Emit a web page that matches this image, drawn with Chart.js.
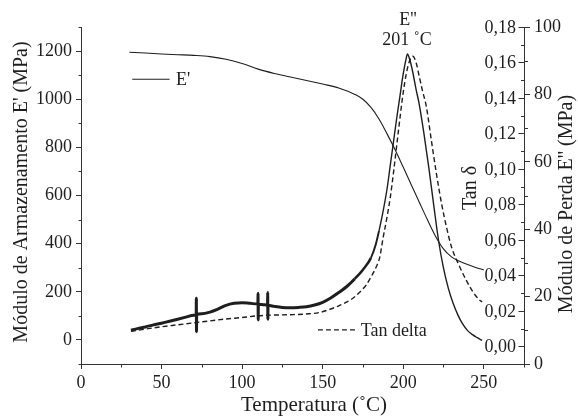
<!DOCTYPE html>
<html><head><meta charset="utf-8">
<script src="https://cdn.jsdelivr.net/npm/chart.js@4.4.0/dist/chart.umd.min.js"></script>
<style>html,body{margin:0;padding:0;background:#fff;}canvas{display:block;}</style>
</head><body>
<canvas id="c" width="578" height="418"></canvas>
<script>
const FONT = 'Liberation Serif';
const INK = '#1e1e1e';
const AXIS = '#333333';

// Storage modulus E' (left axis, MPa)
const ePrimeT = [30,40,50,60,70,80,90,100,110,120,130,140,150,160,170,175,180,185,190,195,200,205,210,215,220,225,230,235,240,245,250];
const ePrimeVal = [1195,1192,1188,1185,1182,1177,1166,1148,1125,1107,1092,1078,1063,1047,1020,1000,966,918,856,790,718,645,572,500,432,378,345,327,313,301,291];

// Loss modulus E'' (right axis, MPa)
const eLossT = [
  31,35,40,45,50,55,60,65,70,71.5,
  71.6,71.7,71.8,75,80,85,90,95,100,105,
  109.8,109.9,110,110.1,113,115.8,115.9,116,116.1,120,
  125,130,135,140,145,150,155,160,165,170,
  175,180,183,185,187,190,192,194,196,198,
  200,202,202.6,204,206,208,210,213,216,219,
  222,225,228,231,234,237,240,243,246,249];
const eLossVal = [
  10,10.5,11,11.6,12.1,12.7,13.3,13.9,14.5,14.6,
  19.5,9.6,14.6,14.9,15.4,16.3,17.4,18,18.2,18,
  17.8,21,13.1,17.7,17.6,17.5,21.2,13.3,17.4,17.1,
  16.8,16.7,16.8,17,17.5,18.3,19.6,21.2,23,25.3,
  28,31.5,35.5,39.5,44,52,59,66,73,79.5,
  86,91,92,90.5,86.5,81.5,77,68,58,47,
  36.5,28.5,22.5,18,14.5,11.8,9.9,8.7,7.8,7];

// Tan delta (inner right axis)
const tanT = [
  31,40,50,60,70,80,90,100,110,120,
  130,140,148,155,160,165,169,173,177,180,
  183.4,185.4,187.5,190,192,194,197,200,202,204,
  206,208,210,212,214.4,217.5,220.6,223.7,226.8,230,
  235,239,243.4,247.5,249];
const tanVal = [
  0.0084,0.0097,0.011,0.0121,0.0132,0.0143,0.0154,0.0162,0.0172,0.0176,
  0.0178,0.0182,0.019,0.021,0.0228,0.025,0.0272,0.0305,0.0345,0.039,
  0.045,0.05,0.061,0.073,0.084,0.098,0.121,0.143,0.154,0.161,
  0.1635,0.16,0.152,0.144,0.135,0.116,0.0975,0.081,0.0675,0.056,
  0.045,0.0375,0.0305,0.026,0.025];

// Ticks
const xTicks = [0,50,100,150,200,250];
const xMinorTicks = [25,75,125,175,225,275];
const leftTicks = [0,200,400,600,800,1000,1200];
const leftMinorTicks = [-100,100,300,500,700,900,1100,1300];
const lossTicks = [0,20,40,60,80,100];
const lossMinorTicks = [10,30,50,70,90];
const tanTicks = [0,0.02,0.04,0.06,0.08,0.10,0.12,0.14,0.16,0.18];
const tanMinorTicks = [0.01,0.03,0.05,0.07,0.09,0.11,0.13,0.15,0.17];

// Texts
const xTitle = 'Temperatura (˚C)';
const leftTitle = "Módulo de Armazenamento E' (MPa)";
const rightTitle = "Módulo de Perda E'' (MPa)";
const tanTitle = 'Tan δ';
const peakText = ["E''", '201 ˚C'];
const peakT = 202.3;
const legendEPrime = "E'";
const legendTan = 'Tan delta';

const pts = (xs, ys) => xs.map((x, i) => ({x, y: ys[i]}));
const setTicks = arr => scale => { scale.ticks = arr.map(v => ({value: v})); };

const decor = {
  id: 'decor',
  afterDraw(chart) {
    const {ctx, chartArea: ca, scales} = chart;
    const sx = scales.x, sy = scales.y, sl = scales.yLoss, st = scales.yTan;
    const line = (x1, y1, x2, y2) => { ctx.beginPath(); ctx.moveTo(x1, y1); ctx.lineTo(x2, y2); ctx.stroke(); };
    const al = v => Math.round(v) + 0.5;
    const vtext = (t, x, y, size) => {
      ctx.save(); ctx.translate(x, y); ctx.rotate(-Math.PI / 2);
      ctx.textAlign = 'center'; ctx.textBaseline = 'middle';
      ctx.font = `${size}px "${FONT}"`; ctx.fillText(t, 0, 0); ctx.restore();
    };
    ctx.save();
    ctx.strokeStyle = AXIS; ctx.lineWidth = 1; ctx.setLineDash([]);
    const L = al(ca.left), R = al(ca.right), B = al(ca.bottom);
    xMinorTicks.forEach(v => { const p = al(sx.getPixelForValue(v)); line(p, B, p, B + 3); });
    leftMinorTicks.forEach(v => { const p = al(sy.getPixelForValue(v)); line(L - 3, p, L, p); });
    lossMinorTicks.forEach(v => { const p = al(sl.getPixelForValue(v)); line(R, p, R + 3.5, p); });
    tanMinorTicks.forEach(v => { const p = al(st.getPixelForValue(v)); line(R - 3.5, p, R, p); });
    ctx.fillStyle = INK;
    ctx.font = `18px "${FONT}"`;
    ctx.textAlign = 'right'; ctx.textBaseline = 'middle';
    tanTicks.forEach(v => {
      const p = al(st.getPixelForValue(v));
      line(R - 6, p, R, p);
      ctx.fillText(v.toFixed(2).replace('.', ','), R - 8.5, p + 1);
    });
    // axis titles
    vtext(tanTitle, R - 54, 188, 20);
    vtext(leftTitle, 22, 192, 20);
    vtext(rightTitle, 567, 204, 20);
    ctx.textAlign = 'center'; ctx.textBaseline = 'middle';
    ctx.font = `21px "${FONT}"`;
    ctx.fillText(xTitle, 314, 405);
    // peak annotation
    ctx.font = `18px "${FONT}"`;
    const px = sx.getPixelForValue(peakT);
    ctx.fillText(peakText[0], px + 1, sy.getPixelForValue(1326));
    ctx.fillText(peakText[1], px, sy.getPixelForValue(1243));
    // legends
    ctx.textAlign = 'left';
    ctx.strokeStyle = INK; ctx.lineWidth = 1;
    const ly1 = sy.getPixelForValue(1083);
    line(sx.getPixelForValue(31.8), ly1, sx.getPixelForValue(55), ly1);
    ctx.fillText(legendEPrime, sx.getPixelForValue(59), ly1 + 1);
    const ly2 = sy.getPixelForValue(41.7);
    ctx.lineWidth = 1.3; ctx.setLineDash([5, 3]);
    line(sx.getPixelForValue(147.1), ly2, sx.getPixelForValue(172), ly2);
    ctx.setLineDash([]);
    ctx.fillText(legendTan, sx.getPixelForValue(173.6), ly2 + 1);
    ctx.restore();
  }
};

const tickFont = {family: FONT, size: 18};
const plain = v => String(v);
const lossWidth = c => {
  const x = c.p1.parsed.x;
  if (x <= 170) return 3;
  if (x <= 180) return 2.5;
  if (x <= 186) return 1.9;
  return 1.4;
};

new Chart(document.getElementById('c'), {
  type: 'line',
  data: {
    datasets: [
      {label: "E'", data: pts(ePrimeT, ePrimeVal), yAxisID: 'y', borderColor: INK, borderWidth: 1.1,
       pointRadius: 0, fill: false, cubicInterpolationMode: 'monotone'},
      {label: "E''", data: pts(eLossT, eLossVal), yAxisID: 'yLoss', borderColor: INK, borderWidth: 1.4,
       pointRadius: 0, fill: false, cubicInterpolationMode: 'monotone',
       segment: {borderWidth: lossWidth}},
      {label: 'Tan delta', data: pts(tanT, tanVal), yAxisID: 'yTan', borderColor: INK, borderWidth: 1.4,
       borderDash: [5, 3], pointRadius: 0, fill: false, cubicInterpolationMode: 'monotone'}
    ]
  },
  options: {
    responsive: false,
    devicePixelRatio: 1,
    animation: false,
    layout: {padding: {left: 0, right: 0, top: 27, bottom: 0}},
    plugins: {legend: {display: false}, tooltip: {enabled: false}},
    scales: {
      x: {
        type: 'linear', position: 'bottom', min: 0, max: 275,
        afterBuildTicks: setTicks(xTicks),
        afterFit: s => { s.height = 54; },
        ticks: {font: tickFont, color: INK, padding: 3, maxRotation: 0, autoSkip: false, callback: plain},
        grid: {drawOnChartArea: false, tickLength: 5, color: AXIS, tickColor: AXIS},
        border: {display: true, color: AXIS, width: 1},
        title: {display: false}
      },
      y: {
        type: 'linear', position: 'left', min: -100, max: 1300,
        afterBuildTicks: setTicks(leftTicks),
        afterFit: s => { s.width = 81; },
        ticks: {font: tickFont, color: INK, padding: 4, autoSkip: false, callback: plain},
        grid: {drawOnChartArea: false, tickLength: 5, color: AXIS, tickColor: AXIS},
        border: {display: true, color: AXIS, width: 1},
        title: {display: false}
      },
      yLoss: {
        type: 'linear', position: 'right', min: 0, max: 100, weight: 1,
        afterBuildTicks: setTicks(lossTicks),
        afterFit: s => { s.width = 54; },
        ticks: {font: tickFont, color: INK, padding: 4, autoSkip: false, callback: plain},
        grid: {drawOnChartArea: false, tickLength: 6, color: AXIS, tickColor: AXIS},
        border: {display: true, color: AXIS, width: 1},
        title: {display: false}
      },
      yTan: {
        type: 'linear', position: 'right', min: -0.01, max: 0.18, display: false
      }
    }
  },
  plugins: [decor]
});
</script>
</body></html>
